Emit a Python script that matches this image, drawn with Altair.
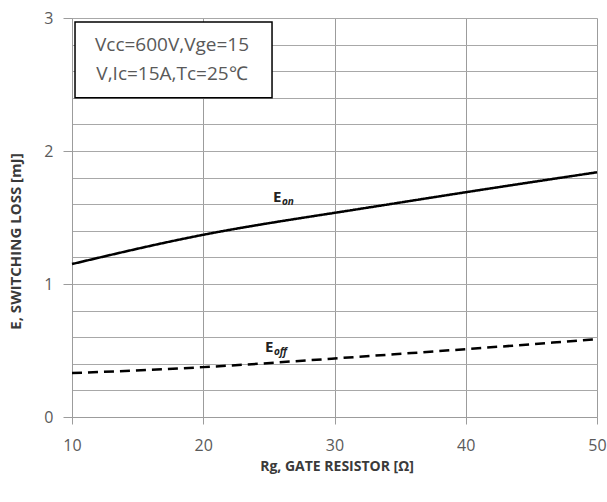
import altair as alt
import pandas as pd

# data
rg = [10, 20, 30, 40, 50]
eon = [1.15, 1.37, 1.535, 1.69, 1.84]
eoff = [0.33, 0.375, 0.44, 0.51, 0.585]

x_ticks = [10, 20, 30, 40, 50]
y_grid = [0, 0.2, 0.4, 0.6, 0.8, 1, 1.2, 1.4, 1.6, 1.8, 2, 2.2, 2.4, 2.6, 2.8, 3]

box_text = ["Vcc=600V,Vge=15", "V,Ic=15A,Tc=25℃"]

FONT = "Open Sans"
W, H = 525, 399

df = pd.DataFrame({"rg": rg * 2, "e": eon + eoff,
                   "s": ["Eon"] * len(rg) + ["Eoff"] * len(rg)})

xs = alt.Scale(domain=[10, 50], nice=False, zero=False)
ys = alt.Scale(domain=[0, 3], nice=False)

is_int = "abs(datum.value - round(datum.value)) < 0.01"

xaxis = alt.Axis(values=x_ticks, tickCount=50, grid=True, gridColor="#9c9c9c", gridWidth=1,
                 domainColor="#9c9c9c", tickColor="#9c9c9c", tickSize=7,
                 labelFont=FONT, labelFontSize=16, labelColor="#5a5a5a", labelPadding=13,
                 labelOverlap=False, labelFlush=False,
                 title="Rg, GATE RESISTOR [Ω]", titleFont=FONT, titleFontSize=14,
                 titleFontWeight="bold", titleColor="#3a3a3a",
                 titleX=W / 2 + 2, titleY=49, titleBaseline="middle", titleAlign="center")
yaxis = alt.Axis(values=y_grid, tickCount=50, grid=True, gridColor="#a8a8a8", gridWidth=1,
                 domainColor="#9c9c9c", tickColor="#9c9c9c", tickSize=9,
                 tickOpacity={"condition": {"test": is_int, "value": 1}, "value": 0},
                 labelExpr=f"{is_int} ? format(datum.value, '.0f') : ''",
                 labelOverlap=False, labelFlush=False,
                 labelFont=FONT, labelFontSize=16, labelColor="#5a5a5a", labelPadding=10,
                 title="E, SWITCHING LOSS [mJ]", titleFont=FONT, titleFontSize=15,
                 titleFontWeight="bold", titleColor="#3a3a3a",
                 titleX=-57, titleY=223, titleAngle=-90, titleBaseline="middle",
                 titleAlign="center")

base = alt.Chart(df)

lines = base.mark_line(color="black", strokeWidth=2.5, interpolate="natural").encode(
    x=alt.X("rg:Q", scale=xs, axis=xaxis),
    y=alt.Y("e:Q", scale=ys, axis=yaxis),
    strokeDash=alt.StrokeDash("s:N", scale=alt.Scale(domain=["Eon", "Eoff"],
                                                     range=[[1, 0], [10, 6]]),
                              legend=None),
)

# annotation box (data coordinates)
box_df = pd.DataFrame({"x": [10.23], "x2": [25.24], "y": [2.97], "y2": [2.40]})
box = alt.Chart(box_df).mark_rect(fill="white", stroke="black", strokeWidth=1.5).encode(
    x=alt.X("x:Q", scale=xs), x2="x2", y=alt.Y("y:Q", scale=ys), y2="y2")

txt_df = pd.DataFrame({"x": [17.62, 17.62], "y": [2.797, 2.579], "t": box_text})
box_txt = alt.Chart(txt_df).mark_text(font=FONT, fontSize=19, color="#595959",
                                      baseline="middle", align="center").encode(
    x=alt.X("x:Q", scale=xs), y=alt.Y("y:Q", scale=ys), text="t:N")

lab_df = pd.DataFrame({"x": [25.31, 24.70], "y": [1.617, 0.49], "sub": ["on", "off"]})
lab_E = alt.Chart(lab_df).mark_text(font=FONT, fontSize=15, fontWeight="bold", color="#222222",
                                    align="left", baseline="alphabetic").encode(
    x=alt.X("x:Q", scale=xs), y=alt.Y("y:Q", scale=ys), text=alt.value("E"))
lab_sub = alt.Chart(lab_df).mark_text(font=FONT, fontSize=10, fontWeight="bold",
                                      fontStyle="italic", color="#222222",
                                      align="left", baseline="alphabetic", dx=9, dy=3).encode(
    x=alt.X("x:Q", scale=xs), y=alt.Y("y:Q", scale=ys), text="sub:N")

chart = alt.layer(lines, box, box_txt, lab_E, lab_sub).properties(
    width=W, height=H,
    autosize=alt.AutoSizeParams(type="none"),
    padding={"left": 72, "top": 18, "right": 10, "bottom": 85},
).configure_view(stroke=None).configure(background="white")

chart.save("out.html", embed_options={"renderer": "svg", "actions": False})
